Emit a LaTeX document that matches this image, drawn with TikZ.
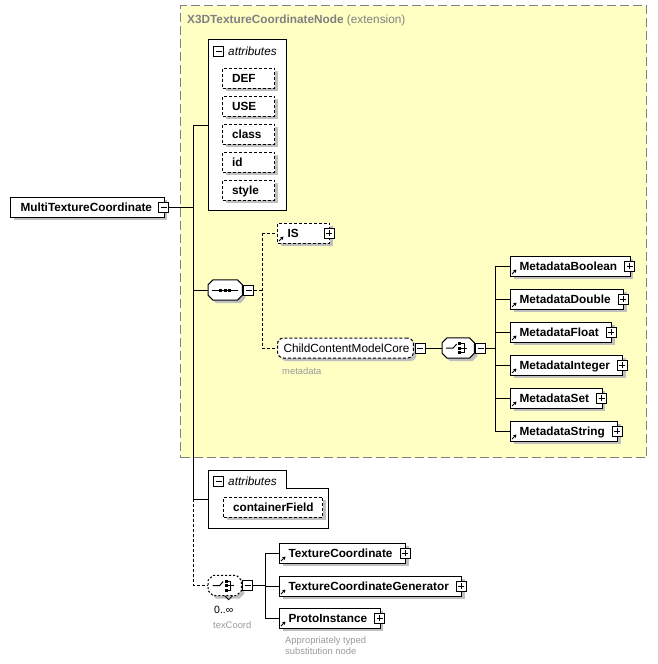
\documentclass[tikz,border=0pt]{standalone}
\usepackage{fontspec}
\setmainfont{Liberation Sans}
\usetikzlibrary{arrows.meta}
\definecolor{ylw}{HTML}{FFFFC4}
\definecolor{shd}{HTML}{C0C0C0}
\definecolor{ttl}{HTML}{808080}
\definecolor{notec}{HTML}{999999}
\newcommand{\fnt}{\fontsize{11.8pt}{14pt}\selectfont}
\newcommand{\smallfnt}{\fontsize{9.4pt}{11pt}\selectfont}
\newcommand{\lft}[3]{\makebox[#1][l]{\hspace*{#2}#3}}
\newcommand{\ename}[1]{\hspace*{9pt}#1\hspace*{13pt}}
\newcommand{\refarr}[1]{\draw[line width=1pt, -{Triangle[length=3pt,width=3.5pt]}] ([shift={(2pt,2.5pt)}]#1.south west) -- ++(4.5pt,4.5pt);}
\newcommand{\octa}[2]{%
  \fill[shd, transform canvas={shift={(3pt,-3pt)}}] ([xshift=5pt]#1.north west) -- ([xshift=-5pt]#1.north east) -- ([yshift=-5pt]#1.north east) -- ([yshift=5pt]#1.south east) -- ([xshift=-5pt]#1.south east) -- ([xshift=5pt]#1.south west) -- ([yshift=5pt]#1.south west) -- ([yshift=-5pt]#1.north west) -- cycle;
  \draw[#2] ([xshift=5pt]#1.north west) -- ([xshift=-5pt]#1.north east) -- ([yshift=-5pt]#1.north east) -- ([yshift=5pt]#1.south east) -- ([xshift=-5pt]#1.south east) -- ([xshift=5pt]#1.south west) -- ([yshift=5pt]#1.south west) -- ([yshift=-5pt]#1.north west) -- cycle;}
\newcommand{\seqsym}[1]{%
  \draw[line width=1pt] ([xshift=-13pt]#1.center) -- ([xshift=13pt]#1.center);
  \foreach \dx in {-4.5,0,4.5} \fill ([shift={(\dx pt-1.5pt,-1.5pt)}]#1.center) rectangle ++(3pt,3pt);}
\newcommand{\chsym}[1]{%
  \draw[line width=1pt] ([xshift=-12pt]#1.center) -- ([xshift=-5pt]#1.center) -- ([shift={(-1.5pt,4pt)}]#1.center);
  \foreach \dy in {4.5,0,-4.5} \fill ([shift={(0pt,\dy pt-1.5pt)}]#1.center) rectangle ++(3pt,3pt);
  \draw[line width=1pt] ([shift={(3pt,4.5pt)}]#1.center) -- ([shift={(6pt,4.5pt)}]#1.center) -- ([shift={(6pt,-4.5pt)}]#1.center) -- ([shift={(3pt,-4.5pt)}]#1.center);
  \draw[line width=1pt] ([shift={(3pt,0pt)}]#1.center) -- ([shift={(9pt,0pt)}]#1.center);}
\tikzset{
  lw/.style={line width=1pt},
  shadowed/.style={preaction={fill=shd, draw=none, transform canvas={shift={(3pt,-3pt)}}}},
  elem/.style={lw, draw, fill=white, shadowed, anchor=west, minimum height=20pt, inner xsep=0pt, inner ysep=0pt, text height=10.4pt, text depth=2pt, font=\fnt\bfseries},
  attr/.style={elem, dash pattern=on 3pt off 2pt},
  grp/.style={elem, rounded corners=6pt, dash pattern=on 3pt off 2pt, font=\fnt},
  pmbox/.style={draw, fill=white, minimum size=10pt, inner sep=0pt, line width=0.8pt},
  plus/.style={pmbox, path picture={\draw[line width=0.8pt] ([xshift=-3pt]path picture bounding box.center) -- ([xshift=3pt]path picture bounding box.center); \draw[line width=0.8pt] ([yshift=-3pt]path picture bounding box.center) -- ([yshift=3pt]path picture bounding box.center);}},
  minus/.style={pmbox, path picture={\draw[line width=0.8pt] ([xshift=-3pt]path picture bounding box.center) -- ([xshift=3pt]path picture bounding box.center);}},
  conn/.style={lw},
  opt/.style={lw, dash pattern=on 3pt off 2pt},
  oct/.style={anchor=west, minimum width=34pt, minimum height=20pt, inner sep=0pt},
  hdr/.style={anchor=west, font=\fnt\itshape, inner sep=0pt},
  note/.style={font=\smallfnt, text=notec, anchor=west, inner sep=0pt},
  region/.style={draw=ttl, fill=ylw, line width=1pt, dash pattern=on 9pt off 4pt, anchor=north west, minimum width=466pt, minimum height=452pt, inner sep=0pt}
}
\begin{document}
\begin{tikzpicture}[x=1pt,y=-1pt]
\useasboundingbox (0,0) rectangle (657,664);
% extension region
\node[region] (ext) at (180,5) {};
\node[anchor=west, font=\fnt, text=ttl, inner sep=0pt] (title) at (187,20) {\textbf{X3DTextureCoordinateNode} (extension)};

% attributes group 1
\node[lw, draw, fill=white, anchor=north west, minimum width=78pt, minimum height=171pt, inner sep=0pt] (attrs1) at (208,39) {};
\node[minus] (attrs1M) at (218.5,51) {};
\node[hdr] (attrs1T) at (228,51) {attributes};
\foreach \nm/\txt/\yy in {def/DEF/78, use/USE/106, cls/class/134, idn/id/162, sty/style/190}
  \node[attr] (\nm) at (222,\yy) {\lft{52pt}{9.5pt}{\txt}};

% main element
\node[elem] (main) at (10,207) {\hspace*{10pt}MultiTextureCoordinate\hspace*{12pt}};
\node[minus] (mainM) at ([xshift=-1pt]main.east) {};

% sequence
\node[oct] (seq) at (208,290) {};
\octa{seq}{lw, fill=white}
\seqsym{seq}
\node[minus, anchor=west] (seqM) at ([xshift=1pt]seq.east) {};

% IS
\node[attr] (is) at (277,233) {\lft{52pt}{10pt}{IS}};
\node[plus] (isP) at ([xshift=-1pt]is.east) {};
\refarr{is}

% ChildContentModelCore
\node[grp] (cc) at (277,348) {\hspace*{6pt}ChildContentModelCore\hspace*{4pt}};
\node[minus, anchor=west] (ccM) at ([xshift=1pt]cc.east) {};
\node[note] (ccN) at (282,371) {metadata};

% choice
\node[oct, minimum width=32pt] (ch) at (442,348) {};
\octa{ch}{lw, fill=white}
\chsym{ch}
\node[minus, anchor=west] (chM) at ([xshift=1pt]ch.east) {};
\draw[conn] (ccM.east) -- (ch.west);
\coordinate (mj) at (495,348);
\draw[conn] (chM.east) -- (mj);
\foreach \nm/\txt/\yy in {mb/MetadataBoolean/266, md/MetadataDouble/299, mf/MetadataFloat/332, mi/MetadataInteger/365, ms/MetadataSet/398, mst/MetadataString/431}{
  \draw[conn] (495,\yy) -- (510,\yy);
  \node[elem] (\nm) at (510,\yy) {\ename{\txt}};
  \node[plus] (\nm P) at ([xshift=-1pt]\nm.east) {};
  \refarr{\nm}
}
\draw[conn] (mj |- mb.west) -- (mj |- mst.west);

% attributes group 2
\draw[lw, fill=white] (208,470) -- (286,470) -- (286,488) -- (328,488) -- (328,528) -- (208,528) -- cycle;
\coordinate (a2w) at (208,499);
\node[minus] (attrs2M) at (218.5,481) {};
\node[hdr] (attrs2T) at (228,481) {attributes};
\node[attr] (cf) at (223,507) {\hspace*{9.5pt}containerField\hspace*{9pt}};

% texCoord choice
\node[oct, minimum width=33pt] (tc) at (208,585.5) {};
\octa{tc}{lw, fill=white, dash pattern=on 2pt off 2pt}
\chsym{tc}
\draw[line width=0.8pt] ([xshift=0pt]tc.south) -- ([shift={(4pt,-4pt)}]tc.south) -- ([xshift=8pt]tc.south);
\node[minus, anchor=west] (tcM) at ([xshift=1pt]tc.east) {};
\node[anchor=west, font=\fontsize{10.5pt}{12pt}\selectfont, inner sep=0pt] (tcO) at (214,610) {0..∞};
\node[note] (tcN) at (213,625) {texCoord};
\coordinate (tj) at (265,585.5);
\draw[conn] (tcM.east) -- (tj);
\foreach \nm/\txt/\yy in {txc/TextureCoordinate/553, tcg/TextureCoordinateGenerator/586, pi/ProtoInstance/618}{
  \draw[conn] (265,\yy) -- (279,\yy);
  \node[elem] (\nm) at (279,\yy) {\ename{\txt}};
  \node[plus] (\nm P) at ([xshift=-1pt]\nm.east) {};
  \refarr{\nm}
}
\draw[conn] (tj |- txc.west) -- (tj |- pi.west);
\node[note, align=left] (piN) at (285,645.5) {Appropriately typed\\substitution node};

% main bus
\coordinate (bj) at (193,207);
\coordinate (bTop) at (193,125);
\coordinate (bSeq) at (193,290);
\coordinate (bAt2) at (193,499);
\coordinate (bCh) at (193,585.5);
\draw[conn] (mainM.east) -- (bj);
\draw[conn] (bTop) -- (bAt2);
\draw[conn] (bTop) -- (bTop -| attrs1.west);
\draw[conn] (bSeq) -- (seq.west);
\draw[conn] (bAt2) -- (a2w);
\draw[opt] (bAt2) -- (bCh) -- (tc.west);

% sequence branches
\coordinate (sj) at (262,290);
\draw[opt] (seqM.east) -- (sj);
\draw[opt] (sj |- is.west) -- (sj |- cc.west);
\draw[opt] (sj |- is.west) -- (is.west);
\draw[opt] (sj |- cc.west) -- (cc.west);
\end{tikzpicture}
\end{document}
